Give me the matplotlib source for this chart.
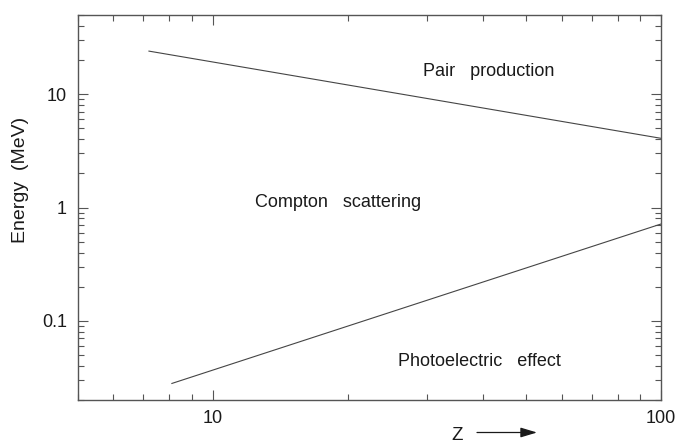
import matplotlib
matplotlib.use("Agg")
import matplotlib.pyplot as plt
from matplotlib.ticker import LogLocator, NullFormatter, FixedLocator, FixedFormatter

# Boundaries between dominant photon-interaction regimes
pair_z = [7.2, 100]
pair_e = [24.0, 4.08]          # MeV, pair production / Compton boundary
photo_z = [8.1, 100]
photo_e = [0.028, 0.715]       # MeV, photoelectric / Compton boundary

region_labels = ["Pair   production", "Compton   scattering", "Photoelectric   effect"]
region_z = [41.2, 19.0, 39.3]
region_e = [14.6, 1.02, 0.0402]

x_ticks = [10, 100]
x_ticklabels = ["10", "100"]
y_ticks = [0.1, 1, 10]
y_ticklabels = ["0.1", "1", "10"]

plt.rcParams['font.family'] = ['Liberation Sans', 'DejaVu Sans']

W, H = 676, 443
fig = plt.figure(figsize=(W / 100, H / 100), dpi=100)
ax = fig.add_axes([78 / W, 1 - 400 / H, (661 - 78) / W, (400 - 15) / H])

line_col = "#454545"
ax.plot(pair_z, pair_e, color=line_col, lw=0.8)
ax.plot(photo_z, photo_e, color=line_col, lw=0.8)

ax.set_xscale("log")
ax.set_yscale("log")
ax.set_xlim(5, 100)
ax.set_ylim(0.02, 50)

ax.xaxis.set_major_locator(FixedLocator(x_ticks))
ax.xaxis.set_major_formatter(FixedFormatter(x_ticklabels))
ax.yaxis.set_major_locator(FixedLocator(y_ticks))
ax.yaxis.set_major_formatter(FixedFormatter(y_ticklabels))
for axis in (ax.xaxis, ax.yaxis):
    axis.set_minor_locator(LogLocator(base=10, subs=range(2, 10)))
    axis.set_minor_formatter(NullFormatter())

spine_col = "#555555"
for s in ax.spines.values():
    s.set_color(spine_col)
    s.set_linewidth(1.0)

ax.tick_params(which="both", direction="in", top=True, right=True,
               color=spine_col, width=0.8, labelsize=13, labelcolor="#1a1a1a")
ax.tick_params(which="major", length=7)
ax.tick_params(which="minor", length=4)
ax.tick_params(axis="y", pad=8)
ax.tick_params(axis="x", pad=7)

for txt, z, e in zip(region_labels, region_z, region_e):
    ax.text(z, e, txt, fontsize=13, ha="center", va="baseline", color="#1a1a1a")

ax.set_ylabel("Energy  (MeV)", fontsize=14, color="#1a1a1a")
ax.yaxis.label.set_va("center")
ax.yaxis.set_label_coords(-0.099, 0.571)

# Z axis label with arrow, kept just inside the lower edge
fig.text(456.7 / W, 1 - 439.5 / H, "Z", fontsize=13.5, ha="center",
         va="baseline", color="#1a1a1a")
ay = 1 - 432.5 / H
ax.annotate("", xy=(537 / W, ay), xytext=(477 / W, ay),
            xycoords="figure fraction", textcoords="figure fraction",
            arrowprops=dict(arrowstyle="-|>,head_length=1.0,head_width=0.3",
                            mutation_scale=10, color="#1a1a1a", lw=0.9,
                            shrinkA=0, shrinkB=0))

fig.savefig("out.png", dpi=100)
